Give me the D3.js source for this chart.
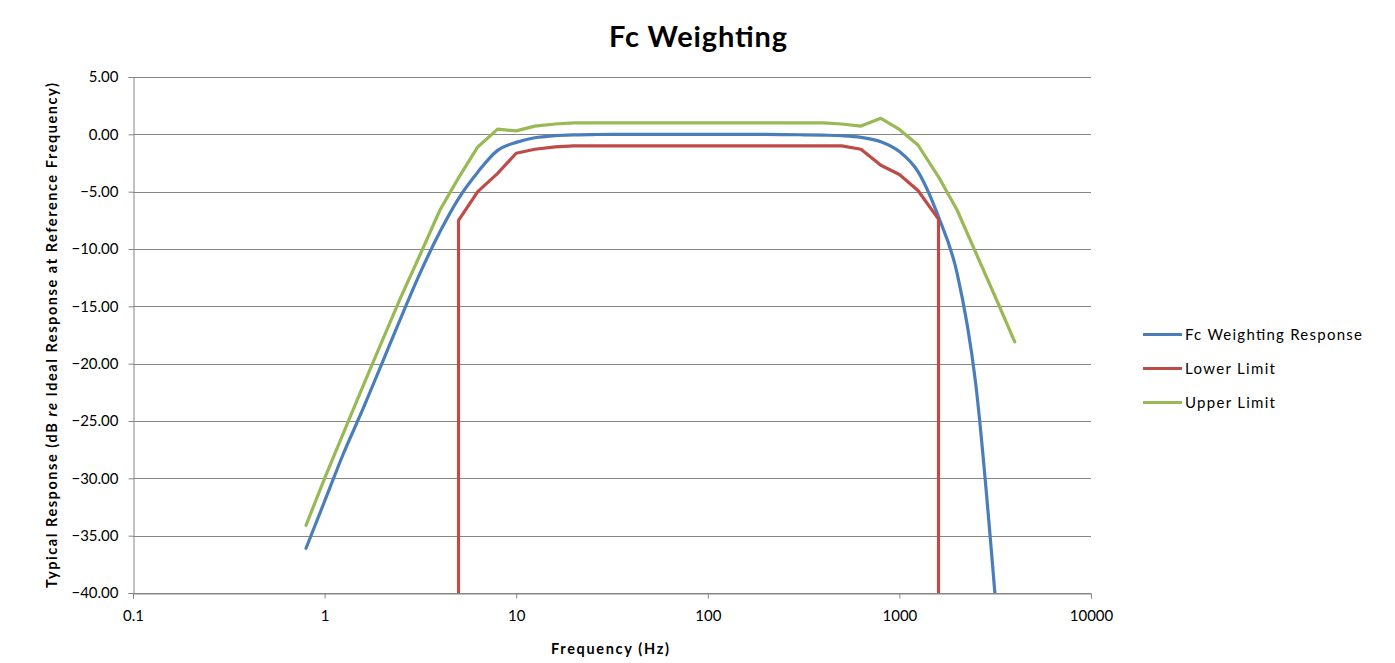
<!DOCTYPE html>
<html>
<head>
<meta charset="utf-8">
<script src="https://cdn.jsdelivr.net/npm/d3@7"></script>
<style>
  html, body { margin: 0; padding: 0; background: #ffffff; }
  svg { display: block; }
  text { font-family: Lato, "Open Sans", sans-serif; fill: #000; }
</style>
</head>
<body>
<svg id="chart" width="1395" height="663"></svg>
<script>
// ---------- data ----------
const chartTitle = "Fc Weighting";
const xAxisTitle = "Frequency (Hz)";
const yAxisTitle = "Typical Response (dB re Ideal Response at Reference Frequency)";

const xTickValues = [0.1, 1, 10, 100, 1000, 10000];
const xTickLabels = ["0.1", "1", "10", "100", "1000", "10000"];
const yTickValues = [5, 0, -5, -10, -15, -20, -25, -30, -35, -40];

const seriesNames = ["Fc Weighting Response", "Lower Limit", "Upper Limit"];
const seriesColors = ["#4a7ebb", "#be4b48", "#98b954"];

const responseFreq = [0.8, 1, 1.25, 1.6, 2, 2.5, 3.15, 4, 5, 6.3, 8, 10, 12.5, 16, 20, 25, 31.5, 40, 50, 63, 80, 100,
  125, 160, 200, 250, 315, 400, 500, 630, 800, 1000, 1250, 1600, 2000, 2500, 3150];
const responseValues = [-36.1, -32.0, -27.9, -23.8, -19.9, -16.0, -12.1, -8.5, -5.6, -3.3, -1.4, -0.7, -0.3, -0.12, -0.05,
  -0.02, 0, 0, 0, 0, 0, 0, 0, 0, -0.01, -0.02, -0.04, -0.07, -0.12, -0.26, -0.64, -1.5, -3.25, -7.2, -12.1, -21.7, -40];

const lowerFreq = [5, 5, 6.3, 8, 10, 12.5, 16, 20, 25, 31.5, 40, 50, 63, 80, 100, 125, 160, 200, 250, 315, 400, 500,
  630, 800, 1000, 1250, 1600, 1600];
const lowerValues = [-40, -7.5, -5.0, -3.4, -1.65, -1.3, -1.1, -1.0, -1.0, -1.0, -1.0, -1.0, -1.0, -1.0, -1.0, -1.0, -1.0,
  -1.0, -1.0, -1.0, -1.0, -1.0, -1.3, -2.7, -3.5, -4.9, -7.4, -40];

const upperFreq = [0.8, 1, 1.25, 1.6, 2, 2.5, 3.15, 4, 5, 6.3, 8, 10, 12.5, 16, 20, 25, 31.5, 40, 50, 63, 80, 100,
  125, 160, 200, 250, 315, 400, 500, 630, 800, 1000, 1250, 1600, 2000, 2500, 3150, 4000];
const upperValues = [-34.1, -30.0, -26.1, -21.8, -18.0, -14.2, -10.5, -6.6, -3.8, -1.1, 0.45, 0.3, 0.72, 0.9, 1.0, 1.0,
  1.0, 1.0, 1.0, 1.0, 1.0, 1.0, 1.0, 1.0, 1.0, 1.0, 1.0, 1.0, 0.9, 0.72, 1.4, 0.43, -0.93, -3.7, -6.6, -10.3, -14.1, -18.1];

// ---------- layout ----------
const svg = d3.select("#chart");
const plot = { left: 133, right: 1091, top: 77, bottom: 593 };

const x = d3.scaleLog().domain([0.1, 10000]).range([plot.left, plot.right]);
const y = d3.scaleLinear().domain([-40, 5]).range([plot.bottom, plot.top]);

const gridColor = "#868686";

// gridlines
svg.append("g")
  .selectAll("line")
  .data(yTickValues)
  .join("line")
  .attr("x1", plot.left).attr("x2", plot.right)
  .attr("y1", d => Math.round(y(d)) + 0.5).attr("y2", d => Math.round(y(d)) + 0.5)
  .attr("stroke", gridColor).attr("stroke-width", 1);

// y axis
const yAxis = svg.append("g")
  .attr("transform", `translate(${plot.left + 0.5},0)`)
  .call(d3.axisLeft(y).tickValues(yTickValues).tickFormat(d3.format(".2f")).tickSizeOuter(0).tickSize(5).tickPadding(10));
yAxis.select(".domain").attr("stroke", gridColor);
yAxis.selectAll(".tick line").attr("stroke", gridColor);
yAxis.selectAll(".tick text").attr("font-size", 15).attr("font-family", "Lato, sans-serif").attr("fill", "#000");

// x axis
const xAxis = svg.append("g")
  .attr("transform", `translate(0,${Math.round(plot.bottom) + 0.5})`)
  .call(d3.axisBottom(x).tickValues(xTickValues).tickFormat((d, i) => xTickLabels[i]).tickSizeOuter(0).tickSize(5).tickPadding(12));
xAxis.select(".domain").attr("stroke", gridColor);
xAxis.selectAll(".tick line").attr("stroke", gridColor);
xAxis.selectAll(".tick text").attr("font-size", 15).attr("font-family", "Lato, sans-serif").attr("fill", "#000");

// clip
svg.append("defs").append("clipPath").attr("id", "plotclip")
  .append("rect").attr("x", plot.left).attr("y", plot.top - 10)
  .attr("width", plot.right - plot.left).attr("height", plot.bottom - plot.top + 10);

const series = [
  { name: seriesNames[0], color: seriesColors[0], f: responseFreq, v: responseValues, curve: d3.curveMonotoneX },
  { name: seriesNames[1], color: seriesColors[1], f: lowerFreq, v: lowerValues, curve: d3.curveLinear },
  { name: seriesNames[2], color: seriesColors[2], f: upperFreq, v: upperValues, curve: d3.curveLinear }
];

const lines = svg.append("g").attr("clip-path", "url(#plotclip)");
series.forEach(s => {
  const pts = s.f.map((f, i) => [f, s.v[i]]);
  const gen = d3.line().x(d => x(d[0])).y(d => y(d[1])).curve(s.curve);
  lines.append("path")
    .attr("d", gen(pts))
    .attr("fill", "none")
    .attr("stroke", s.color)
    .attr("stroke-width", 3.2)
    .attr("stroke-linejoin", "round")
    .attr("stroke-linecap", "round");
});

// title
svg.append("text")
  .attr("x", 698).attr("y", 46.5)
  .attr("text-anchor", "middle")
  .attr("font-size", 29).attr("font-weight", "bold")
  .attr("textLength", 178).attr("lengthAdjust", "spacing")
  .text(chartTitle);

// x axis title
svg.append("text")
  .attr("x", 610).attr("y", 654)
  .attr("text-anchor", "middle")
  .attr("font-size", 14.5).attr("font-weight", "bold")
  .attr("textLength", 118).attr("lengthAdjust", "spacing")
  .text(xAxisTitle);

// y axis title (with italic "re")
const yt = svg.append("text")
  .attr("transform", `translate(57,335.5) rotate(-90)`)
  .attr("text-anchor", "middle")
  .attr("font-size", 14.5).attr("font-weight", "bold")
  .attr("textLength", 505).attr("lengthAdjust", "spacing");
const parts = yAxisTitle.split(" re ");
yt.append("tspan").text(parts[0] + " ");
yt.append("tspan").attr("font-style", "italic").text("re");
yt.append("tspan").text(" " + parts[1]);

// legend
const legendWidths = [177, 90, 90];
const legend = svg.append("g");
series.forEach((s, i) => {
  const ly = 334.5 + i * 34;
  legend.append("line")
    .attr("x1", 1143).attr("x2", 1182)
    .attr("y1", ly).attr("y2", ly)
    .attr("stroke", s.color).attr("stroke-width", 3.2);
  legend.append("text")
    .attr("x", 1185).attr("y", ly + 5.5)
    .attr("font-size", 15)
    .attr("textLength", legendWidths[i]).attr("lengthAdjust", "spacing")
    .text(s.name);
});
</script>
</body>
</html>
